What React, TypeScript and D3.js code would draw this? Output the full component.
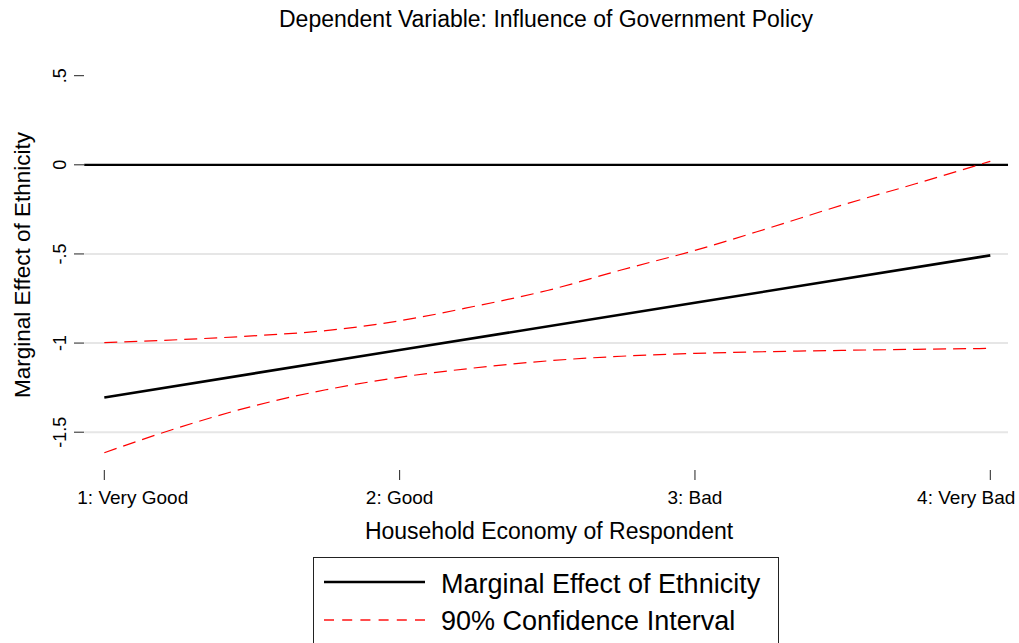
import React from "react";
import * as d3 from "d3";

// ---- data ----
const categories = [1, 2, 3, 4];
const categoryLabels = ["1: Very Good", "2: Good", "3: Bad", "4: Very Bad"];
const effect = [-1.305, -1.039, -0.774, -0.508];

const ciX = [1, 1.25, 1.5, 1.75, 2, 2.25, 2.5, 2.75, 3, 3.25, 3.5, 3.75, 4];
const ciUpper = [-0.997, -0.981, -0.96, -0.93, -0.875, -0.795, -0.705, -0.59, -0.48, -0.355, -0.225, -0.105, 0.02];
const ciLower = [-1.615, -1.475, -1.355, -1.262, -1.192, -1.14, -1.1, -1.074, -1.058, -1.048, -1.041, -1.035, -1.03];

const yTicks = [0.5, 0, -0.5, -1, -1.5];
const yTickLabels = [".5", "0", "-.5", "-1", "-1.5"];
const gridValues = [-0.5, -1, -1.5];

const title = "Dependent Variable: Influence of Government Policy";
const xTitle = "Household Economy of Respondent";
const yTitle = "Marginal Effect of Ethnicity";
const legendLabels = ["Marginal Effect of Ethnicity", "90% Confidence Interval"];

const FONT = "'Liberation Sans', Arial, Helvetica, sans-serif";

export default function App() {
  const W = 1019;
  const H = 643;
  const x = d3.scaleLinear().domain([1, 4]).range([104.3, 990.3]);
  const y = d3.scaleLinear().domain([0.5, -1.5]).range([75.7, 432.2]);
  const xLeft = x(0.932);
  const xRight = x(4.06);

  const line = d3
    .line<[number, number]>()
    .x((d) => x(d[0]))
    .y((d) => y(d[1]));
  const curve = d3
    .line<[number, number]>()
    .x((d) => x(d[0]))
    .y((d) => y(d[1]))
    .curve(d3.curveMonotoneX);

  const effPts = categories.map((c, i) => [c, effect[i]] as [number, number]);
  const upPts = ciX.map((c, i) => [c, ciUpper[i]] as [number, number]);
  const loPts = ciX.map((c, i) => [c, ciLower[i]] as [number, number]);

  return (
    <svg
      width={W}
      height={H}
      style={{ position: "absolute", left: 0, top: 0, background: "#fff" }}
      fontFamily={FONT}
    >
      <rect x={0} y={0} width={W} height={H} fill="#fff" />
      {/* title */}
      <text x={546} y={27} textAnchor="middle" fontSize={23} fill="#000">
        {title}
      </text>

      {/* gridlines */}
      {gridValues.map((v) => (
        <line key={v} x1={xLeft} x2={xRight} y1={y(v)} y2={y(v)} stroke="#e6e6e6" strokeWidth={2} />
      ))}

      {/* y axis ticks & labels */}
      {yTicks.map((v, i) => (
        <g key={v}>
          <line x1={74} x2={84} y1={y(v)} y2={y(v)} stroke="#222" strokeWidth={1} />
          <text
            transform={`translate(66,${y(v)}) rotate(-90)`}
            textAnchor="middle"
            fontSize={18}
            fill="#000"
          >
            {yTickLabels[i]}
          </text>
        </g>
      ))}
      <text transform={`translate(30,265) rotate(-90)`} textAnchor="middle" fontSize={22.5} fill="#000">
        {yTitle}
      </text>

      {/* zero line */}
      <line x1={xLeft} x2={xRight} y1={y(0)} y2={y(0)} stroke="#000" strokeWidth={2.2} />

      {/* CI */}
      <path d={curve(upPts) || ""} fill="none" stroke="#ff0000" strokeWidth={1.2} strokeDasharray="13,7" />
      <path d={curve(loPts) || ""} fill="none" stroke="#ff0000" strokeWidth={1.2} strokeDasharray="13,7" />
      {/* effect */}
      <path d={line(effPts) || ""} fill="none" stroke="#000" strokeWidth={2.6} />

      {/* x axis ticks & labels */}
      {categories.map((c, i) => {
        const last = i === categories.length - 1;
        const first = i === 0;
        const tx = first ? x(c) - 27 : last ? x(c) + 25 : x(c);
        const anchor = first ? "start" : last ? "end" : "middle";
        return (
          <g key={c}>
            <line x1={x(c)} x2={x(c)} y1={470} y2={480} stroke="#222" strokeWidth={1} />
            <text x={tx} y={503.5} textAnchor={anchor} fontSize={19} fill="#000">
              {categoryLabels[i]}
            </text>
          </g>
        );
      })}
      <text x={549} y={539} textAnchor="middle" fontSize={23} fill="#000">
        {xTitle}
      </text>

      {/* legend */}
      <rect x={313.5} y={557.5} width={465} height={120} fill="#fff" stroke="#222" strokeWidth={1} />
      <line x1={324} x2={425} y1={582} y2={582} stroke="#000" strokeWidth={2.6} />
      <line x1={324} x2={425} y1={620} y2={620} stroke="#ff4d4d" strokeWidth={2} strokeDasharray="10,8.2" />
      <text x={441} y={593} fontSize={27} fill="#000">
        {legendLabels[0]}
      </text>
      <text x={441} y={630} fontSize={27} fill="#000">
        {legendLabels[1]}
      </text>
    </svg>
  );
}
